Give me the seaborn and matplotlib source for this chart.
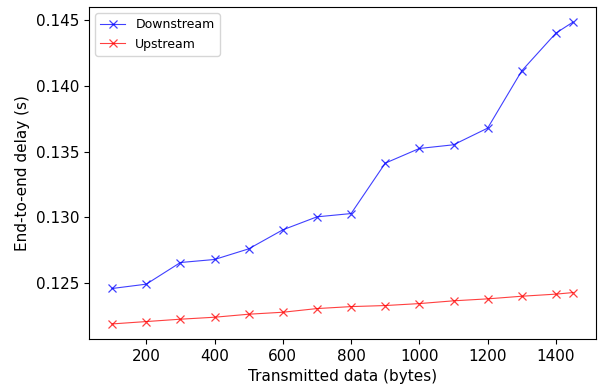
import matplotlib
matplotlib.use("Agg")
import matplotlib.pyplot as plt
import seaborn as sns
import pandas as pd

data_bytes = [100, 200, 300, 400, 500, 600, 700, 800, 900, 1000, 1100, 1200, 1300, 1400, 1450]
downstream = [0.12457, 0.12490, 0.12655, 0.12678, 0.12759, 0.12904, 0.13003, 0.13028,
              0.13412, 0.13524, 0.13552, 0.13679, 0.14116, 0.14403, 0.14487]
upstream = [0.12187, 0.12205, 0.12223, 0.12238, 0.12261, 0.12276, 0.12304, 0.12319,
            0.12327, 0.12342, 0.12363, 0.12378, 0.12398, 0.12414, 0.12426]
series_names = ["Downstream", "Upstream"]
colors = ["blue", "red"]

fig = plt.figure(figsize=(5.98, 3.89), dpi=100)
ax = fig.add_axes([0.149, 0.1285, 0.8477, 0.8535])
for name, vals, c in zip(series_names, [downstream, upstream], colors):
    df = pd.DataFrame({"x": data_bytes, "y": vals})
    sns.lineplot(data=df, x="x", y="y", color=c, marker="x", label=name,
                 linewidth=0.8, markersize=6.2, alpha=0.75,
                 markeredgecolor=c, markeredgewidth=0.9, ax=ax)
ax.set_xlabel("Transmitted data (bytes)", fontsize=11)
ax.set_ylabel("End-to-end delay (s)", fontsize=11)
ax.set_yticks([0.125, 0.130, 0.135, 0.140, 0.145])
ax.set_yticklabels(["0.125", "0.130", "0.135", "0.140", "0.145"])
ax.set_xticks([200, 400, 600, 800, 1000, 1200, 1400])
ax.tick_params(labelsize=11)
ax.legend(loc="upper left", fontsize=9)
fig.savefig("out.png", dpi=100)
